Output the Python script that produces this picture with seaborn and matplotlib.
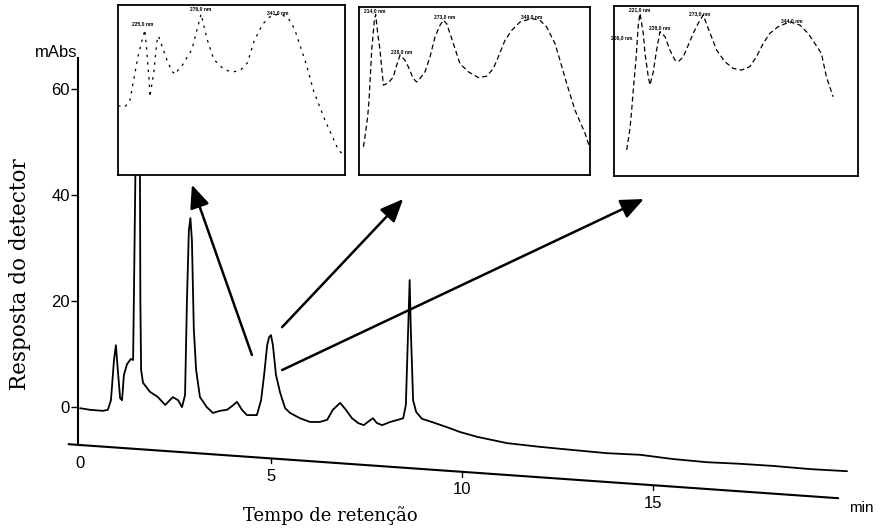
import matplotlib
matplotlib.use("Agg")
import matplotlib.pyplot as plt
import pandas as pd
import seaborn as sns

# ---------------- data ----------------
# chromatogram (retention time in min, detector response in mAbs)
ret_time = [0.0, 0.26, 0.60, 0.73, 0.81, 0.89, 0.94, 0.99, 1.05, 1.10, 1.15, 1.23, 1.33,
            1.39, 1.41, 1.45, 1.51, 1.57, 1.58, 1.60, 1.65, 1.83, 2.04, 2.23, 2.43, 2.57,
            2.67, 2.75, 2.80, 2.85, 2.89, 2.93, 2.98, 3.04, 3.14, 3.32, 3.48, 3.66, 3.85,
            3.98, 4.11, 4.24, 4.37, 4.63, 4.74, 4.82, 4.90, 4.95, 5.00, 5.05, 5.13, 5.24,
            5.37, 5.50, 5.76, 6.02, 6.28, 6.47, 6.62, 6.81, 6.96, 7.12, 7.28, 7.43, 7.57,
            7.67, 7.77, 7.91, 8.12, 8.32, 8.46, 8.53, 8.59, 8.63, 8.66, 8.72, 8.80, 8.95,
            9.21, 9.61, 9.95, 10.39, 11.18, 12.04, 12.91, 13.80, 14.66, 15.52, 16.41,
            17.28, 18.14, 19.11, 20.08]
response = [-0.3, -0.6, -0.8, -0.6, 1.2, 8.8, 11.6, 6.9, 1.6, 1.2, 6.0, 8.0, 9.0,
            8.8, 20.1, 43.7, 90.0, 43.7, 20.1, 6.9, 4.5, 2.8, 1.8, 0.3, 1.8, 1.2,
            -0.1, 2.2, 20.1, 33.3, 35.6, 31.4, 14.5, 6.9, 1.8, -0.1, -1.2, -0.8, -0.6,
            0.1, 0.9, -0.6, -1.6, -1.6, 1.2, 6.0, 11.6, 13.1, 13.5, 11.6, 6.0, 2.6,
            -0.3, -1.2, -2.2, -2.9, -2.9, -2.5, -0.6, 0.7, -0.6, -2.2, -3.1, -3.5, -2.7,
            -2.2, -3.1, -3.5, -2.9, -2.5, -2.2, 0.3, 14.5, 23.9, 14.5, 1.2, -1.0, -2.3,
            -2.9, -3.9, -4.8, -5.7, -6.9, -7.6, -8.2, -8.8, -9.1, -9.9, -10.5,
            -10.8, -11.2, -11.8, -12.2]

# drifting time axis drawn in the original
axis_time = [-0.3, 19.85]
axis_resp = [-7.1, -17.3]

x_ticks = [0, 5, 10, 15]
y_ticks = [0, 20, 40, 60]

# UV spectra of the three marked peaks (wavelength nm, relative absorbance)
spec1_wl = [200, 205.9, 210.4, 217.8, 223.7, 225.2, 227.6, 228.1, 231.7, 234.1, 235.6,
            243.0, 247.4, 250.4, 253.3, 256.3, 265.2, 273.2, 278.5, 284.4, 293.3, 300.7,
            308.1, 314.1, 320.0, 327.4, 334.8, 342.2, 349.6, 355.6, 365.9, 372.4, 382.2,
            394.1, 400]
spec1_abs = [40.8, 40.0, 43.4, 70.4, 85.4, 74.0, 54.2, 45.9, 61.1, 77.9, 81.8,
             67.9, 61.1, 59.2, 62.1, 64.1, 74.0, 94.7, 79.9, 68.0, 62.1, 60.5,
             61.7, 66.1, 78.9, 88.7, 93.7, 94.7, 92.7, 85.8, 65.1, 49.3, 32.5,
             14.8, 10.8]
spec1_labels = ["225,0 nm", "276,0 nm", "341,0 nm"]
spec1_lab_wl = [222, 272.6, 340.7]
spec1_lab_abs = [89, 97.6, 95.6]

spec2_wl = [203.8, 205.2, 207.5, 208.7, 211.0, 213.3, 214.4, 216.2, 218.2, 221.1, 225.4,
            229.7, 232.6, 235.5, 239.8, 242.7, 247.0, 249.9, 252.8, 257.1, 261.5, 265.8,
            270.1, 273.0, 275.9, 281.7, 287.4, 294.7, 303.3, 310.5, 316.3, 320.6, 326.4,
            332.2, 339.4, 349.5, 356.7, 362.5, 369.7, 374.0, 379.8, 387.0, 395.7, 400]
spec2_abs = [16.8, 22.8, 34.7, 44.6, 74.3, 92.1, 95.6, 84.2, 74.3, 53.5, 54.8,
             58.4, 65.3, 71.3, 68.3, 64.4, 57.4, 55.4, 57.4, 61.4, 70.3, 82.2,
             89.1, 92.1, 90.1, 78.2, 66.3, 61.4, 58.0, 58.8, 63.4, 70.3, 80.2,
             86.1, 91.1, 93.1, 92.1, 88.1, 78.2, 68.3, 54.5, 38.6, 24.8, 15.8]
spec2_labels = ["214,0 nm", "238,0 nm", "273,0 nm", "349,0 nm"]
spec2_lab_wl = [213.9, 237.0, 274.5, 349.5]
spec2_lab_abs = [97.6, 73.3, 94.5, 94.5]

spec3_wl = [210.4, 213.1, 214.5, 215.8, 218.0, 219.9, 221.3, 224.0, 225.4, 228.1, 229.5,
            232.2, 234.9, 237.7, 241.8, 245.8, 249.9, 252.7, 256.8, 260.9, 264.9, 269.0,
            273.1, 278.6, 284.1, 290.9, 297.7, 304.5, 311.3, 316.8, 322.3, 327.7, 334.5,
            344.1, 352.3, 359.1, 364.6, 370.0, 374.1, 379.6]
spec3_abs = [15.3, 28.0, 38.8, 50.6, 68.2, 88.8, 95.6, 83.9, 72.1, 58.4, 53.5,
             61.3, 74.1, 84.9, 82.0, 74.1, 68.2, 67.2, 70.2, 77.0, 83.9, 89.8,
             94.7, 84.3, 74.1, 67.2, 63.3, 62.3, 64.3, 70.2, 78.0, 83.9, 87.8,
             90.7, 88.8, 83.9, 78.0, 72.1, 58.4, 46.6]
spec3_labels = ["221,0 nm", "206,0 nm", "238,0 nm", "273,0 nm", "344,0 nm"]
spec3_lab_wl = [221.3, 206.3, 237.7, 270.4, 345.5]
spec3_lab_abs = [97.6, 81.5, 87.4, 95.3, 91.3]

# arrows from peaks to spectra (tail -> tip, data units of the chromatogram)
arrow_tail_t = [4.50, 5.29, 5.29]
arrow_tail_v = [9.75, 15.0, 6.9]
arrow_tip_t = [2.93, 8.46, 14.76]
arrow_tip_v = [41.9, 39.2, 39.2]

# ---------------- figure ----------------
sns.set_theme(style="white")
plt.rcParams["font.family"] = ["Liberation Sans", "DejaVu Sans"]

fig = plt.figure(figsize=(8.8, 5.3), dpi=100)
ax = fig.add_axes([0.0692, 0.0330, 0.9116, 0.8792])
ax.set_facecolor("white")

chrom = pd.DataFrame({"t": ret_time, "v": response})
sns.lineplot(data=chrom, x="t", y="v", ax=ax, color="black", lw=1.3,
             sort=False, estimator=None)

axis_df = pd.DataFrame({"t": axis_time, "v": axis_resp})
sns.lineplot(data=axis_df, x="t", y="v", ax=ax, color="black", lw=1.5,
             sort=False, estimator=None)

ax.set_xlim(-0.5, 20.5)
ax.set_ylim(-20, 68)
ax.set_xlabel("")
ax.set_ylabel("")

slope = (axis_resp[1] - axis_resp[0]) / (axis_time[1] - axis_time[0])


def axis_at(t):
    return axis_resp[0] + slope * (t - axis_time[0])


for t in x_ticks:
    base = axis_at(t)
    if t > 0:
        ax.plot([t, t], [base, base - 0.9], color="black", lw=1.0)
    ax.text(t, base - 3.4, str(t), ha="center", va="center", fontsize=12,
            color="black")

ax.text(20.45, -19.1, "min", ha="center", va="center", fontsize=11,
        color="black", clip_on=False)
ax.text(-0.63, 66.8, "mAbs", ha="center", va="center", fontsize=12,
        color="black", clip_on=False)

for s in ["top", "right", "bottom"]:
    ax.spines[s].set_visible(False)
ax.spines["left"].set_position(("data", -0.05))
ax.spines["left"].set_bounds(-7.3, 65.8)
ax.spines["left"].set_color("black")
ax.spines["left"].set_linewidth(1.5)
ax.set_xticks([])
ax.set_yticks(y_ticks)
ax.set_yticklabels([str(v) for v in y_ticks])
ax.tick_params(axis="y", direction="out", length=5, width=1.0, pad=1,
               labelsize=12, colors="black", left=True)

for tt, tv, ht, hv in zip(arrow_tail_t, arrow_tail_v, arrow_tip_t, arrow_tip_v):
    ax.annotate("", xy=(ht, hv), xytext=(tt, tv),
                arrowprops=dict(arrowstyle="-|>,head_length=0.7,head_width=0.3",
                                mutation_scale=20, lw=1.8, color="black",
                                shrinkA=0, shrinkB=0))

fig.text(330 / 880, 1 - 516 / 530, "Tempo de retenção", ha="center", va="center",
         fontsize=13, family=["DejaVu Serif"], color="black")
fig.text(20 / 880, 1 - 274 / 530, "Resposta do detector", ha="center", va="center",
         rotation=90, fontsize=15.5, family=["DejaVu Serif"], color="black")

# ---------------- spectra insets ----------------
insets = [
    ([118 / 880, 1 - 175 / 530, 227 / 880, 170 / 530], spec1_wl, spec1_abs,
     spec1_labels, spec1_lab_wl, spec1_lab_abs, (0, (2, 4))),
    ([359 / 880, 1 - 175 / 530, 231 / 880, 168 / 530], spec2_wl, spec2_abs,
     spec2_labels, spec2_lab_wl, spec2_lab_abs, (0, (4, 2.5))),
    ([614 / 880, 1 - 176 / 530, 244 / 880, 170 / 530], spec3_wl, spec3_abs,
     spec3_labels, spec3_lab_wl, spec3_lab_abs, (0, (4, 2.5))),
]
for rect, wl, ab, labs, lwl, lab_ab, ls in insets:
    ia = fig.add_axes(rect)
    ia.set_facecolor("white")
    df = pd.DataFrame({"wl": wl, "abs": ab})
    sns.lineplot(data=df, x="wl", y="abs", ax=ia, color="black", lw=0.9,
                 sort=False, estimator=None, linestyle=ls)
    for text, x, y in zip(labs, lwl, lab_ab):
        ia.text(x, y, text, fontsize=3.6, fontweight="bold", ha="center",
                va="center", color="black")
    ia.set_xlim(200, 400)
    ia.set_ylim(0, 100)
    ia.set_xticks([])
    ia.set_yticks([])
    ia.set_xlabel("")
    ia.set_ylabel("")
    for s in ia.spines.values():
        s.set_visible(True)
        s.set_color("black")
        s.set_linewidth(1.3)

fig.savefig("out.png", dpi=100, facecolor="white")
